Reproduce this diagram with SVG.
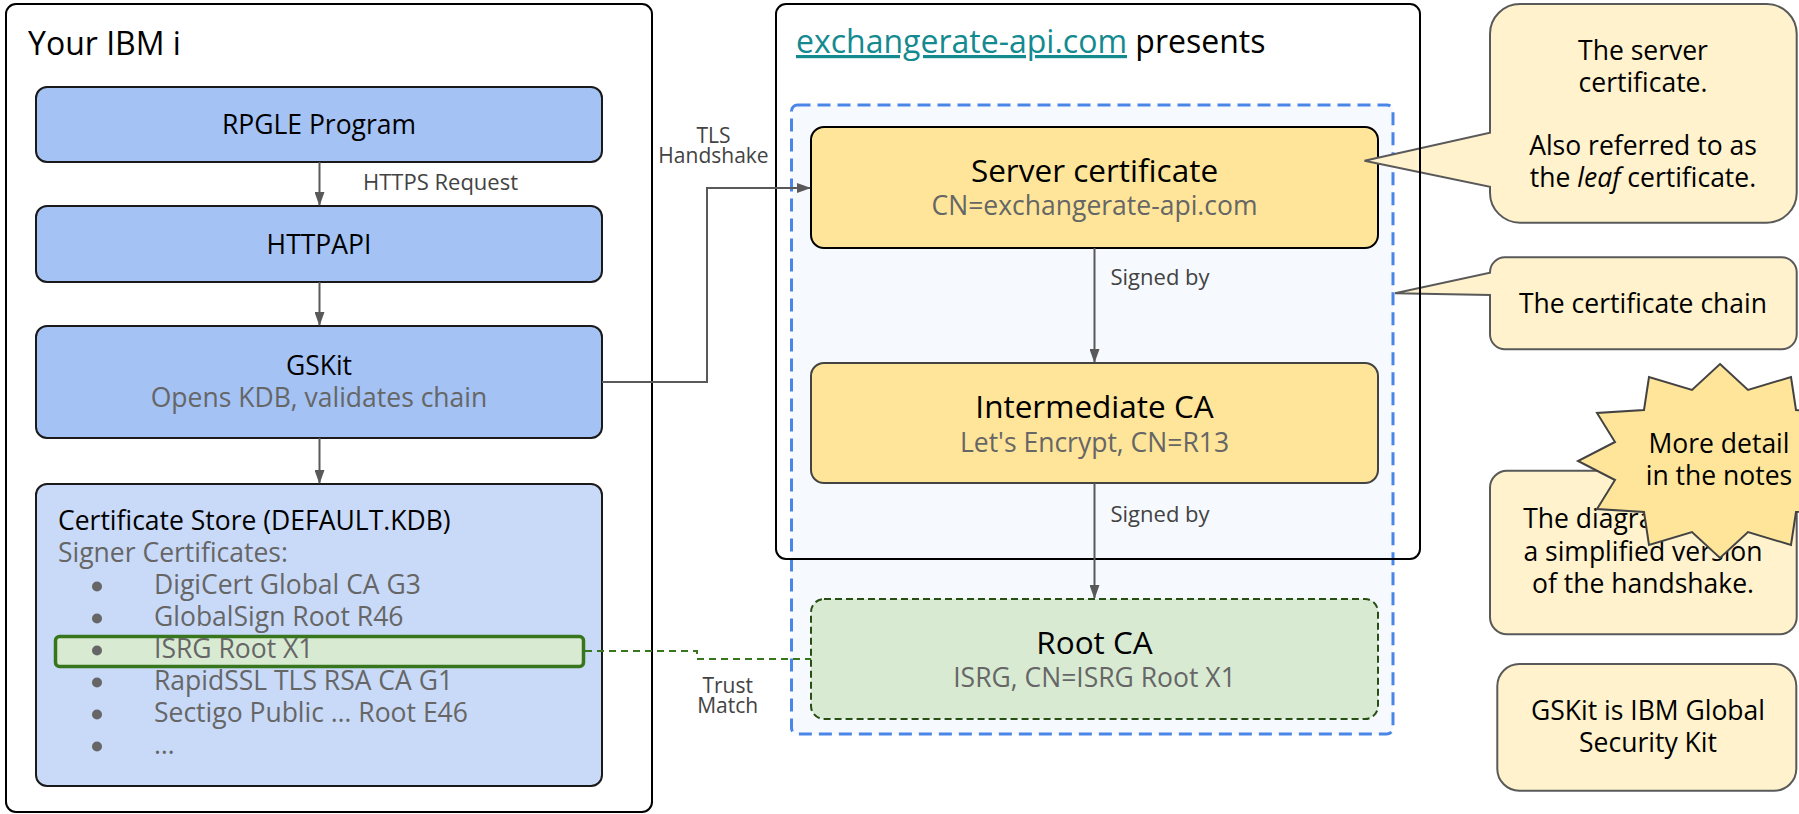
<svg xmlns="http://www.w3.org/2000/svg" width="1799" height="814" viewBox="0 0 1799 814">
<defs>
<style>
text{font-family:"Open Sans","Noto Sans","Liberation Sans",sans-serif;}
.title{font-size:32px;fill:#000;}
.body{font-size:26.5px;fill:#000;}
.sub{font-size:26.5px;fill:#666666;}
.h2{font-size:31.5px;fill:#000;}
.lbl{font-size:22px;fill:#434343;}
.lbl2{font-size:21px;fill:#434343;}
.outer{fill:none;stroke:#000;stroke-width:2;}
.blue{fill:#a4c2f4;stroke:#1a1a1a;stroke-width:2;}
.note{fill:#fff2cc;stroke:#595959;stroke-width:2;}
.conn{fill:none;stroke:#595959;stroke-width:2;}
.c{text-anchor:middle;}
</style>
<marker id="arr" markerWidth="14" markerHeight="10" refX="13" refY="5" orient="auto" markerUnits="userSpaceOnUse">
<path d="M0,0 L14,5 L0,10 z" fill="#595959"/>
</marker>
</defs>
<rect width="1799" height="814" fill="#ffffff"/>

<g id="chain-area">
<rect x="791.5" y="105" width="601.5" height="629" rx="6" fill="#f6f9fe" stroke="#4a86e8" stroke-width="3" stroke-dasharray="13 7"/>
</g>

<g id="rpgle">
<rect class="blue" x="36" y="87" width="566" height="75" rx="11"/>
<text class="body c" x="319" y="134">RPGLE Program</text>
</g>
<g id="httpapi">
<rect class="blue" x="36" y="206" width="566" height="76" rx="11"/>
<text class="body c" x="319" y="254">HTTPAPI</text>
</g>
<g id="gskit">
<rect class="blue" x="36" y="326" width="566" height="112" rx="11"/>
<text class="body c" x="319" y="375">GSKit</text>
<text class="sub c" x="319" y="407">Opens KDB, validates chain</text>
</g>
<g id="cert-store">
<rect x="36" y="484" width="566" height="302" rx="11" fill="#c9daf8" stroke="#1a1a1a" stroke-width="2"/>
<rect x="55.5" y="636.5" width="528" height="30" rx="4" fill="#d9ead3" stroke="#38761d" stroke-width="3.5"/>
<text class="body" x="58" y="530">Certificate Store (DEFAULT.KDB)</text>
<text class="sub" x="58" y="562">Signer Certificates:</text>
<g fill="#666666">
<circle cx="97" cy="586.5" r="5"/>
<circle cx="97" cy="618.5" r="5"/>
<circle cx="97" cy="650.5" r="5"/>
<circle cx="97" cy="682.5" r="5"/>
<circle cx="97" cy="714.5" r="5"/>
<circle cx="97" cy="746.5" r="5"/>
</g>
<text class="sub" x="154" y="594">DigiCert Global CA G3</text>
<text class="sub" x="154" y="626">GlobalSign Root R46</text>
<text class="sub" x="154" y="658">ISRG Root X1</text>
<text class="sub" x="154" y="690">RapidSSL TLS RSA CA G1</text>
<text class="sub" x="154" y="722">Sectigo Public … Root E46</text>
<text class="sub" x="154" y="754">…</text>
</g>

<g id="server-cert">
<rect x="811" y="127" width="567" height="121" rx="13" fill="#ffe599" stroke="#000" stroke-width="2"/>
<text class="h2 c" x="1094.5" y="182">Server certificate</text>
<text class="sub c" x="1094.5" y="215">CN=exchangerate-api.com</text>
</g>
<g id="intermediate-ca">
<rect x="811" y="363" width="567" height="120" rx="13" fill="#ffe599" stroke="#434343" stroke-width="2"/>
<text class="h2 c" x="1094.5" y="418">Intermediate CA</text>
<text class="sub c" x="1094.5" y="452">Let's Encrypt, CN=R13</text>
</g>
<g id="root-ca">
<rect x="811" y="599" width="567" height="120" rx="13" fill="#d9ead3" stroke="#274e13" stroke-width="2" stroke-dasharray="7 4"/>
<text class="h2 c" x="1094.5" y="654">Root CA</text>
<text class="sub c" x="1094.5" y="687">ISRG, CN=ISRG Root X1</text>
</g>

<g id="note-server">
<path class="note" d="M1520,4 H1766.7 A30,30 0 0 1 1796.7,34 V192.7 A30,30 0 0 1 1766.7,222.7 H1520 A30,30 0 0 1 1490,192.7 V186.7 L1364.5,160.7 L1490,132.7 V34 A30,30 0 0 1 1520,4 Z"/>
<text class="body c" x="1643" y="60">The server</text>
<text class="body c" x="1643" y="91.7">certificate.</text>
<text class="body c" x="1643" y="155">Also referred to as</text>
<text class="body c" x="1643" y="186.7">the <tspan font-style="italic">leaf</tspan> certificate.</text>
</g>
<g id="note-chain">
<path class="note" d="M1505,257.3 H1781.7 A15,15 0 0 1 1796.7,272.3 V334.3 A15,15 0 0 1 1781.7,349.3 H1505 A15,15 0 0 1 1490,334.3 V295 L1395,293.3 L1490,272.7 A15,15 0 0 1 1505,257.3 Z"/>
<text class="body c" x="1643" y="313.3">The certificate chain</text>
</g>
<g id="note-simplified">
<rect class="note" x="1490" y="470.7" width="306.7" height="163.6" rx="17"/>
<text class="body c" x="1643" y="528.3">The diagram shows</text>
<text class="body c" x="1643" y="561">a simplified version</text>
<text class="body c" x="1643" y="592.7">of the handshake.</text>
</g>
<g id="note-gskit">
<rect class="note" x="1497.3" y="664" width="299" height="126.7" rx="22"/>
<text class="body c" x="1648" y="720">GSKit is IBM Global</text>
<text class="body c" x="1648" y="751.7">Security Kit</text>
</g>
<g id="more-detail">
<polygon fill="#ffe599" stroke="#434343" stroke-width="2" points="1720,364 1748,390 1791,377 1796,410 1843,413 1825,442 1862,461 1825,480 1843,509 1796,512 1791,545 1748,532 1720,558 1692,532 1649,545 1644,512 1597,509 1615,480 1578,461 1615,442 1597,413 1644,410 1649,377 1692,390"/>
<text class="body c" x="1719" y="453.3">More detail</text>
<text class="body c" x="1719" y="485">in the notes</text>
</g>

<g id="your-ibm-i">
<rect class="outer" x="6" y="4" width="646" height="808" rx="10"/>
<text class="title" x="28" y="55">Your IBM i</text>
</g>
<g id="presents">
<rect class="outer" x="776" y="4" width="644" height="555" rx="10"/>
<text class="title" x="796" y="53"><tspan fill="#138a90" text-decoration="underline">exchangerate-api.com</tspan> presents</text>
</g>

<g id="connectors">
<path class="conn" d="M319.5,162 V205" marker-end="url(#arr)"/>
<path class="conn" d="M319.5,282 V325" marker-end="url(#arr)"/>
<path class="conn" d="M319.5,438 V483" marker-end="url(#arr)"/>
<path class="conn" d="M602,382 H707 V188 H810" marker-end="url(#arr)"/>
<path class="conn" d="M1094.5,248 V362" marker-end="url(#arr)"/>
<path class="conn" d="M1094.5,483 V598" marker-end="url(#arr)"/>
<path d="M585,651 H697 V659 H811" fill="none" stroke="#38761d" stroke-width="2" stroke-dasharray="7 5"/>
<text class="lbl" x="363" y="190">HTTPS Request</text>
<text class="lbl2 c" x="713.5" y="142.7">TLS</text>
<text class="lbl2 c" x="713.5" y="162.7">Handshake</text>
<text class="lbl" x="1110.5" y="285">Signed by</text>
<text class="lbl" x="1110.5" y="521.7">Signed by</text>
<text class="lbl2 c" x="727.7" y="692.7">Trust</text>
<text class="lbl2 c" x="727.7" y="712.7">Match</text>
</g>
</svg>
